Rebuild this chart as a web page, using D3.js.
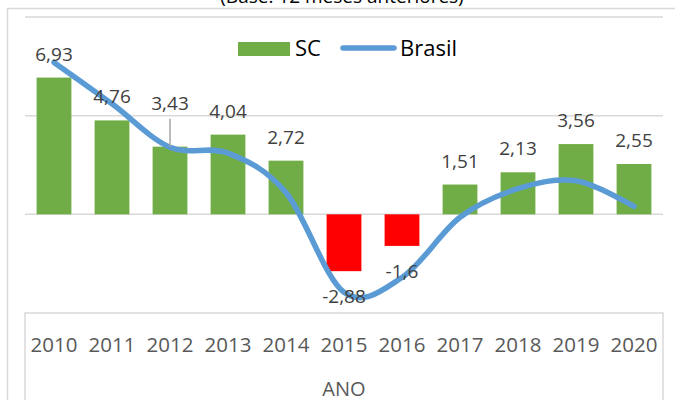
<!DOCTYPE html>
<html>
<head>
<meta charset="utf-8">
<script src="https://cdn.jsdelivr.net/npm/d3@7"></script>
<style>
  html, body { margin: 0; padding: 0; background: #fff; overflow: hidden; }
</style>
</head>
<body>
<div id="chart"></div>
<script>
// Data
const years = ["2010", "2011", "2012", "2013", "2014", "2015", "2016", "2017", "2018", "2019", "2020"];
const scValues = [6.93, 4.76, 3.43, 4.04, 2.72, -2.88, -1.6, 1.51, 2.13, 3.56, 2.55];
const brasilValues = [7.7, 5.6, 3.4, 3.1, 1.1, -3.95, -3.2, -0.15, 1.3, 1.7, 0.4];
const gridValues = [0, 5, 10];
const seriesNames = ["SC", "Brasil"];
const titleText = "(Base: 12 meses anteriores)";
const axisTitle = "ANO";

// Layout
const width = 675, height = 400;
const plot = { left: 25, right: 663, top: 17, bottom: 313 };
const font = "'Open Sans', 'Liberation Sans', Arial, sans-serif";

const svg = d3.select("#chart")
  .append("svg")
    .attr("width", width)
    .attr("height", height)
    .style("font-family", font);

// Outer chart border
svg.append("rect")
    .attr("x", 7.5).attr("y", 8.5)
    .attr("width", 700).attr("height", 420)
    .attr("fill", "none")
    .attr("stroke", "#d9d9d9")
    .attr("stroke-width", 1.5);

// Title (cut off at the top, as in the source)
svg.append("text")
    .attr("x", 342)
    .attr("y", 3)
    .attr("text-anchor", "middle")
    .style("font-size", "19px")
    .attr("fill", "#000")
    .text(titleText);

// Scales
const x = d3.scaleBand()
  .domain(years)
  .range([plot.left, plot.right])
  .paddingInner(0.4)
  .paddingOuter(0.2);

const y = d3.scaleLinear()
  .domain([-5, 10])
  .range([plot.bottom, plot.top]);

// Gridlines
svg.append("g")
  .selectAll("line")
  .data(gridValues)
  .enter()
  .append("line")
    .attr("x1", plot.left)
    .attr("x2", plot.right)
    .attr("y1", d => y(d))
    .attr("y2", d => y(d))
    .attr("stroke", "#d9d9d9")
    .attr("stroke-width", 1.5);

// Category axis box
svg.append("rect")
    .attr("x", plot.left)
    .attr("y", plot.bottom)
    .attr("width", plot.right - plot.left)
    .attr("height", 200)
    .attr("fill", "none")
    .attr("stroke", "#d9d9d9")
    .attr("stroke-width", 1.5);

// Category labels via axis
const xAxis = svg.append("g")
    .attr("transform", `translate(0,${plot.bottom})`)
    .call(d3.axisBottom(x).tickSize(0).tickPadding(0));
xAxis.select(".domain").remove();
xAxis.selectAll("text")
    .attr("y", 39)
    .attr("dy", null)
    .style("font-family", font)
    .style("font-size", "20.5px")
    .attr("fill", "#595959");

svg.append("text")
    .attr("x", (plot.left + plot.right) / 2)
    .attr("y", 396)
    .attr("text-anchor", "middle")
    .style("font-size", "20px")
    .attr("fill", "#595959")
    .text(axisTitle);

// Bars
const data = years.map((yr, i) => ({ year: yr, sc: scValues[i], br: brasilValues[i] }));

svg.append("g")
  .selectAll("rect")
  .data(data)
  .enter()
  .append("rect")
    .attr("x", d => x(d.year))
    .attr("y", d => y(Math.max(0, d.sc)))
    .attr("width", x.bandwidth())
    .attr("height", d => Math.abs(y(d.sc) - y(0)))
    .attr("fill", d => d.sc < 0 ? "#ff0000" : "#70ad47");

// Brasil line (smoothed)
const line = d3.line()
  .x(d => x(d.year) + x.bandwidth() / 2)
  .y(d => y(d.br))
  .curve(d3.curveCatmullRom.alpha(0));

svg.append("path")
    .datum(data)
    .attr("d", line)
    .attr("fill", "none")
    .attr("stroke", "#5b9bd5")
    .attr("stroke-width", 5.5)
    .attr("stroke-linecap", "round");

// Data labels (2012 label is moved up with a leader line)
const fmt = v => String(v).replace(".", ",");
const labelLift = d => d.year === "2012" ? 37 : 17;

svg.append("g")
  .selectAll("line")
  .data(data.filter(d => d.year === "2012"))
  .enter()
  .append("line")
    .attr("x1", d => x(d.year) + x.bandwidth() / 2)
    .attr("x2", d => x(d.year) + x.bandwidth() / 2)
    .attr("y1", d => y(d.sc) - labelLift(d) + 9)
    .attr("y2", d => y(d.sc))
    .attr("stroke", "#a6a6a6")
    .attr("stroke-width", 1.5);

svg.append("g")
  .selectAll("text")
  .data(data)
  .enter()
  .append("text")
    .attr("x", d => x(d.year) + x.bandwidth() / 2)
    .attr("y", d => d.sc < 0 ? y(d.sc) + 32 : y(d.sc) - labelLift(d))
    .attr("text-anchor", "middle")
    .style("font-size", "19px")
    .attr("fill", "#404040")
    .text(d => fmt(d.sc));

// Legend
const legend = svg.append("g");
legend.append("rect")
    .attr("x", 238).attr("y", 42)
    .attr("width", 52).attr("height", 14)
    .attr("fill", "#70ad47");
legend.append("text")
    .attr("x", 295).attr("y", 56)
    .style("font-size", "22px")
    .attr("fill", "#000")
    .text(seriesNames[0]);
legend.append("line")
    .attr("x1", 343).attr("x2", 394)
    .attr("y1", 48).attr("y2", 48)
    .attr("stroke", "#5b9bd5")
    .attr("stroke-width", 5.5)
    .attr("stroke-linecap", "round");
legend.append("text")
    .attr("x", 400).attr("y", 56)
    .style("font-size", "22px")
    .attr("fill", "#000")
    .text(seriesNames[1]);
</script>
</body>
</html>
